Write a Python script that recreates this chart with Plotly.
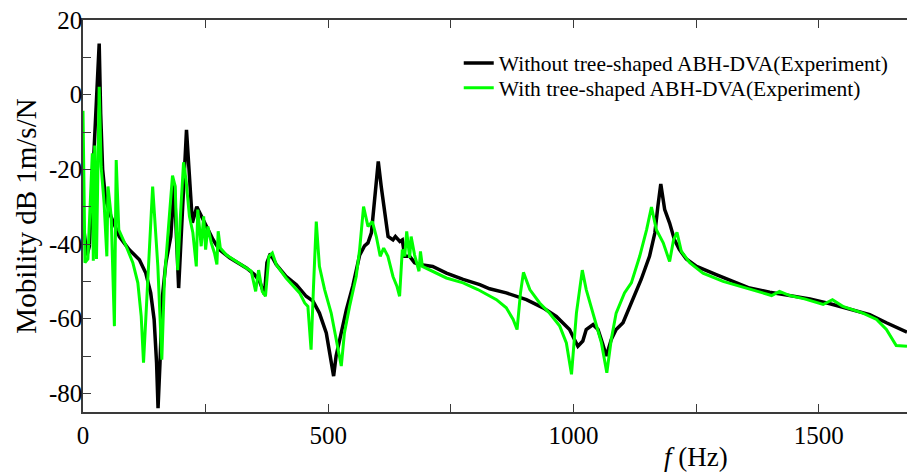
import plotly.graph_objects as go

f_without = [0, 8, 13, 33, 36, 40, 46, 57, 74, 94, 115, 128, 138, 145, 150, 153, 157, 162, 169, 179, 186, 195, 211, 217, 223, 232, 242, 254, 265, 278, 299, 333, 350, 360, 370, 375, 382, 394, 414, 435, 455, 469, 482, 496, 506, 511, 516, 523, 537, 550, 564, 574, 581, 588, 595, 602, 608, 617, 622, 632, 637, 646, 651, 656, 666, 676, 686, 713, 741, 775, 809, 829, 863, 904, 938, 965, 992, 1002, 1009, 1019, 1026, 1040, 1050, 1059, 1067, 1077, 1087, 1101, 1118, 1138, 1155, 1166, 1172, 1178, 1186, 1196, 1206, 1216, 1230, 1251, 1291, 1332, 1359, 1400, 1441, 1482, 1523, 1564, 1604, 1638, 1680]
db_without = [-34.2, -43, -40.6, 13.7, -5, -20, -28, -32.6, -38, -41.5, -44.2, -47.8, -53.1, -60.2, -71.8, -84, -71.8, -54, -45, -38, -23.7, -51.8, -9.4, -22.8, -34.3, -30, -32.6, -36.2, -38.8, -41.5, -43.7, -46.4, -48.2, -50, -53.5, -45, -42.6, -45.5, -48.7, -50.9, -54, -55.3, -58.5, -63.8, -70.9, -75.4, -70, -65.6, -57.6, -51.3, -43, -40.5, -39.7, -37, -28, -17.9, -24.6, -32.6, -38, -38.9, -38, -39.3, -38.9, -43.3, -43.3, -45, -45.5, -46, -47.8, -49.5, -50.9, -52, -53.1, -54.9, -57.1, -59.4, -62.9, -65.6, -67.4, -66, -62.9, -61.6, -62.9, -66.5, -70, -65.6, -62.9, -61.1, -55.8, -49.5, -43.3, -37, -30, -23.9, -30.8, -34.4, -38.9, -41.5, -44, -46, -48.2, -50.4, -51.8, -52.9, -53.8, -54.7, -56, -57.4, -58.9, -61.1, -63.6]

f_with = [0, 4, 10, 19, 21, 24, 27.5, 33, 37, 43, 48.6, 51, 57.5, 64, 67.7, 73, 88, 101.6, 111.8, 118.7, 123.4, 132, 142, 152.6, 160.7, 166, 176, 182.5, 188, 193, 199, 205, 210, 217, 224, 231, 234, 241, 246, 250, 254.6, 261.5, 268, 273, 275.6, 280, 292, 343, 352, 358, 365.5, 372, 379, 386, 394, 414, 441.6, 452, 458.5, 465, 470, 475.6, 482, 492.6, 506, 516, 526.6, 533, 543.5, 557, 564, 572, 581, 590, 598, 606, 613, 621.7, 632, 640, 645.5, 651, 656, 660, 666, 669, 676, 685, 688, 692, 713, 741, 775, 805, 843, 863, 877, 885, 892, 898, 911, 931, 951, 972, 985.5, 996, 1006, 1018, 1026, 1040, 1057, 1068, 1077, 1087, 1104, 1118, 1135, 1149, 1159, 1169, 1183, 1196, 1204, 1211, 1220, 1237, 1264, 1305, 1359, 1404, 1420, 1441, 1471, 1509, 1528, 1549, 1590, 1618, 1638, 1658, 1680]
db_with = [-4.3, -45, -44, -15.7, -44.5, -13.6, -44, 2.1, -19.3, -29, -43.3, -24.6, -32.6, -62, -17.5, -36.2, -40.6, -45, -50.4, -59.4, -71.8, -48.7, -24.6, -46, -71, -49.5, -31.7, -21.7, -24.6, -47, -31.7, -18.1, -22.8, -32.6, -37, -46, -30.8, -40.6, -32.6, -41.5, -35.3, -39.7, -42.4, -45.5, -36.6, -41.1, -42.9, -47.3, -52.7, -47, -52.7, -54, -43.3, -42.4, -45.5, -49.1, -53.1, -55.8, -56.7, -68.3, -51.3, -34, -46, -52.2, -58.5, -65.6, -72.7, -63.8, -56.7, -48.7, -41.5, -30, -35.3, -34, -38, -43.3, -41.1, -43.3, -48.7, -51.3, -54, -41.5, -43.3, -36.6, -43.7, -38, -42.9, -47.3, -42, -46, -47.3, -49.1, -50.4, -52.2, -54.9, -57.1, -60.2, -62.9, -53.1, -47.6, -52.2, -55.8, -58.5, -62, -66.5, -74.9, -58.5, -47, -52.2, -58.5, -66.5, -74.5, -65.6, -58.5, -53.1, -50.4, -43.3, -36.2, -30.1, -36.2, -39.7, -44.7, -38.9, -36.9, -42, -45, -47.8, -50, -52, -53.8, -52.7, -53.8, -54.7, -56.2, -54.9, -56.7, -58.5, -60.2, -62.9, -67.2, -67.4]

x_tickvals = [0, 500, 1000, 1500]
x_ticktext = ["0", "500", "1000", "1500"]
y_tickvals = [-80, -60, -40, -20, 0, 20]
y_ticktext = ["-80", "-60", "-40", "-20", "0", "20"]

names = ["Without tree-shaped ABH-DVA(Experiment)", "With tree-shaped ABH-DVA(Experiment)"]

FONT = "Liberation Serif"
AXC = "#3a3a3a"

fig = go.Figure()
fig.add_trace(go.Scatter(x=f_without, y=db_without, mode="lines", name=names[0],
                         line=dict(color="black", width=3.5), legend="legend"))
fig.add_trace(go.Scatter(x=f_with, y=db_with, mode="lines", name=names[1],
                         line=dict(color="#00ff00", width=3), legend="legend2"))

leg_common = dict(xanchor="left", yanchor="middle", bgcolor="rgba(0,0,0,0)",
                  font=dict(family=FONT, size=21.5, color="black"), itemwidth=30)

fig.update_layout(
    width=907, height=474,
    margin=dict(l=83, r=0, t=20, b=62, autoexpand=False),
    plot_bgcolor="white", paper_bgcolor="white",
    font=dict(family=FONT, color="black", size=25),
    showlegend=True,
    legend=dict(x=0.456, y=0.890, **leg_common),
    legend2=dict(x=0.456, y=0.827, **leg_common),
    xaxis=dict(range=[0, 1680], tickvals=x_tickvals, ticktext=x_ticktext,
               ticks="inside", ticklen=8, tickwidth=1.3, tickcolor=AXC,
               showline=True, linecolor=AXC, linewidth=1.5, mirror="ticks",
               showgrid=False, zeroline=False, automargin=False,
               minor=dict(dtick=250, ticks="inside", ticklen=8, tickwidth=1.3, tickcolor=AXC, showgrid=False),
               tickfont=dict(size=25)),
    yaxis=dict(range=[-85, 20], tickvals=y_tickvals, ticktext=y_ticktext,
               ticks="inside", ticklen=8, tickwidth=1.3, tickcolor=AXC,
               showline=True, linecolor=AXC, linewidth=1.5, mirror=False,
               showgrid=False, zeroline=False, automargin=False,
               ticklabelstandoff=-6,
               minor=dict(dtick=10, ticks="inside", ticklen=8, tickwidth=1.3, tickcolor=AXC, showgrid=False),
               tickfont=dict(size=25),
               title=dict(text="Mobility dB 1m/s/N", font=dict(size=29), standoff=4)),
)

fig.add_annotation(text="<i>f</i> (Hz)", xref="x", yref="paper", x=1250, y=0,
                   xanchor="center", yanchor="middle", yshift=-45, showarrow=False,
                   font=dict(family=FONT, size=27, color="black"))

fig.write_html("out.html", config={"displayModeBar": False},
               post_script="document.body.style.margin='0px';document.body.style.padding='0px';")
